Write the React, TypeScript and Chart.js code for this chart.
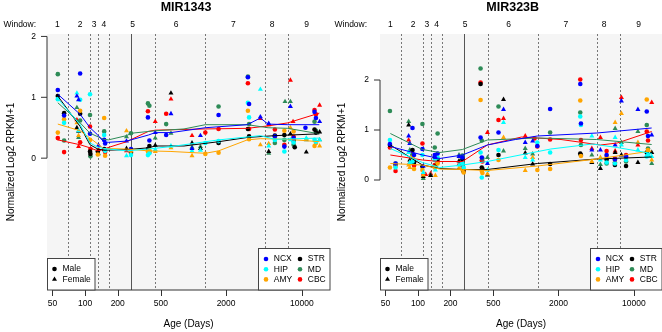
import React, { useEffect, useRef } from "react";
import { Chart, registerables } from "chart.js";

Chart.register(...registerables);

// [age in days post-conception, normalized log2 RPKM+1, sex: 0 = male, 1 = female]
type Sample = [number, number, number];
// [age in days, smoothed value]
type Curve = [number, number][];

// ---------- MIR1343 ----------
const MIR1343_NCX: Sample[] = [[56,1.12,0],[64,0.70,0],[84,1.02,1],[87,0.96,1],[90,1.39,0],[111,0.40,0],[133,0.21,1],[150,0.30,0],[153,0.24,0],[241,0.28,1],[265,0.15,0],[380,0.67,0],[392,0.29,0],[444,0.42,1],[560,0.38,0],[620,0.73,1],[970,0.16,1],[1160,0.37,1],[1705,0.71,0],[3180,1.33,0],[3260,0.89,0],[4145,0.68,1],[4950,0.57,1],[5640,0.36,0],[6900,0.19,0],[7850,0.85,1],[8400,0.33,0],[10800,0.50,0],[13100,0.76,0],[13500,0.66,0],[14600,0.60,1]];
const MIR1343_HIP: Sample[] = [[56,0.97,0],[64,0.58,0],[84,1.07,1],[87,0.45,1],[90,0.96,0],[111,1.05,0],[150,0.38,0],[153,0.12,0],[241,0.04,1],[265,0.05,0],[380,0.05,0],[392,0.08,0],[444,0.14,1],[620,0.20,1],[970,0.12,1],[1160,0.13,1],[1287,0.25,0],[1705,0.28,0],[3180,0.91,0],[3260,0.67,0],[4145,1.13,1],[4950,0.20,1],[5640,0.30,0],[6900,0.11,0],[7850,0.30,1],[8400,0.26,0],[11000,0.33,1],[13100,0.30,0],[13500,0.27,0],[14600,0.30,1]];
const MIR1343_AMY: Sample[] = [[56,0.42,0],[64,0.64,0],[84,0.58,1],[87,0.37,1],[90,0.78,0],[111,0.30,0],[131,0.06,0],[150,0.66,0],[153,0.04,0],[241,0.45,1],[265,0.12,0],[380,0.11,0],[392,0.13,0],[444,0.11,1],[620,0.17,1],[970,0.04,1],[1287,0.07,0],[1705,0.09,0],[3180,0.78,0],[3260,0.31,0],[4145,0.22,1],[4950,0.24,1],[5640,0.33,0],[6900,0.45,0],[7850,0.50,1],[8400,0.44,0],[11000,0.32,1],[13100,0.20,0],[13500,0.25,0],[14600,0.20,1]];
const MIR1343_STR: Sample[] = [[56,1.02,0],[64,0.74,0],[84,0.50,1],[87,0.44,1],[90,0.73,0],[111,0.11,0],[112,0.07,0],[131,0.11,0],[150,0.15,0],[241,0.16,1],[265,0.10,0],[380,0.15,0],[392,0.20,0],[444,0.21,1],[620,1.07,1],[970,0.25,1],[1160,0.16,1],[1705,0.25,0],[3180,0.48,0],[3260,0.36,0],[4950,0.11,1],[5640,0.37,0],[6900,0.38,0],[7850,0.40,1],[8400,0.29,0],[8600,0.18,0],[11000,0.10,1],[13100,0.47,0],[13500,0.42,0],[14600,0.43,1]];
const MIR1343_MD: Sample[] = [[56,1.38,0],[64,0.29,0],[84,0.83,1],[87,0.34,1],[90,0.62,0],[111,0.71,0],[112,0.03,0],[133,0.07,1],[150,0.44,0],[241,0.35,1],[265,0.41,0],[380,0.90,0],[392,0.86,0],[444,0.33,1],[560,0.56,0],[620,0.41,1],[970,0.18,1],[1160,0.19,1],[1705,0.85,0],[3180,1.34,0],[3260,0.56,0],[4950,0.08,1],[5640,0.25,0],[6900,0.30,0],[7000,0.93,1],[7850,0.93,1],[8400,0.22,0],[11000,0.30,1],[13100,0.60,0],[13500,0.45,0],[14600,0.30,1]];
const MIR1343_CBC: Sample[] = [[56,0.33,0],[64,0.10,0],[84,0.63,1],[87,0.19,1],[90,0.26,0],[111,0.52,0],[112,0.15,0],[133,0.14,1],[150,0.14,0],[153,0.10,0],[241,0.12,1],[265,0.09,0],[380,0.77,0],[392,0.10,0],[444,0.60,1],[560,0.73,0],[620,0.97,1],[970,0.37,1],[1287,0.42,0],[1705,0.48,0],[3180,1.23,0],[3260,0.48,0],[4145,0.65,1],[4950,0.55,1],[5640,0.47,0],[6900,0.22,0],[7850,1.28,1],[8300,0.60,1],[8400,0.35,0],[13100,0.79,0],[13500,0.72,0],[14600,0.87,1]];

const MIR1343_NCX_FIT: Curve = [[56,1.05],[90,0.72],[111,0.5],[131,0.38],[148,0.27],[164,0.26],[241,0.28],[384,0.38],[444,0.42],[620,0.42],[1287,0.5],[3140,0.55],[4145,0.66],[4880,0.56],[7425,0.55],[14500,0.55]];
const MIR1343_HIP_FIT: Curve = [[56,0.98],[90,0.55],[111,0.25],[131,0.18],[148,0.16],[241,0.12],[384,0.15],[620,0.19],[818,0.22],[1705,0.3],[4145,0.37],[5640,0.31],[14500,0.33]];
const MIR1343_AMY_FIT: Curve = [[56,0.56],[90,0.45],[111,0.33],[148,0.16],[241,0.15],[384,0.12],[620,0.11],[1287,0.08],[1705,0.12],[3140,0.3],[4145,0.32],[7425,0.31],[14500,0.27]];
const MIR1343_STR_FIT: Curve = [[56,1.02],[90,0.52],[111,0.22],[131,0.15],[148,0.13],[241,0.14],[384,0.17],[444,0.2],[818,0.2],[1705,0.27],[3140,0.34],[5640,0.37],[14500,0.4]];
const MIR1343_MD_FIT: Curve = [[56,0.91],[90,0.58],[111,0.41],[148,0.31],[164,0.3],[241,0.37],[268,0.41],[444,0.45],[818,0.48],[1287,0.55],[3140,0.55],[4880,0.5],[7425,0.49],[14500,0.4]];
const MIR1343_CBC_FIT: Curve = [[56,0.3],[90,0.22],[111,0.17],[131,0.12],[148,0.15],[241,0.27],[384,0.44],[444,0.46],[1287,0.48],[3140,0.49],[4880,0.53],[7425,0.58],[14500,0.74]];

// ---------- MIR323B ----------
const MIR323B_NCX: Sample[] = [[55,0.72,0],[62,0.33,0],[82,0.88,1],[84,0.73,1],[89,1.04,0],[92,0.50,0],[110,0.62,0],[112,0.28,1],[143,0.50,0],[145,0.45,1],[152,0.53,0],[240,0.47,1],[258,0.45,0],[380,0.85,0],[390,0.45,0],[440,0.33,1],[557,0.95,0],[620,1.41,1],[985,0.75,1],[1154,0.78,1],[1275,0.68,0],[1675,1.42,0],[3185,1.92,0],[3230,1.13,0],[4077,0.60,1],[4895,0.60,1],[5587,0.50,0],[6668,0.41,0],[6700,0.70,1],[7660,1.58,1],[8456,0.47,0],[10890,1.41,1],[13150,1.37,0],[13500,0.88,0],[14620,0.90,1]];
const MIR323B_HIP: Sample[] = [[55,0.80,0],[62,0.25,0],[82,0.55,1],[84,0.35,1],[89,0.37,0],[110,0.50,0],[112,0.15,1],[143,0.40,0],[145,0.20,1],[152,0.45,0],[240,0.30,1],[258,0.33,0],[265,0.25,0],[380,0.55,0],[390,0.05,0],[440,0.20,1],[557,0.60,0],[620,1.15,1],[985,0.45,1],[1154,0.40,1],[1275,0.75,0],[1675,0.55,0],[3185,1.27,0],[3230,1.10,0],[4077,0.88,1],[4895,0.40,1],[5587,0.35,0],[6668,0.33,0],[6700,0.85,1],[7660,0.70,1],[8456,0.40,0],[10890,0.60,1],[13150,0.47,0],[13500,0.50,0],[14620,0.47,1]];
const MIR323B_AMY: Sample[] = [[55,0.25,0],[62,0.28,0],[82,0.30,1],[84,0.25,1],[89,0.45,0],[92,0.22,0],[110,0.20,0],[112,0.10,1],[143,0.25,0],[145,0.09,1],[152,0.33,0],[240,0.24,1],[258,0.21,0],[265,0.15,0],[380,1.60,0],[390,0.18,0],[395,0.14,0],[440,0.12,1],[557,0.40,0],[620,0.85,1],[985,0.19,1],[1154,0.45,1],[1275,0.20,0],[1675,0.22,0],[3185,1.59,0],[3230,0.48,0],[4077,0.37,1],[4895,0.45,1],[5587,0.48,0],[6668,0.40,0],[6700,1.15,1],[7660,1.33,1],[8456,0.45,0],[10890,0.75,1],[13150,1.61,0],[13500,0.60,0],[14620,0.40,1]];
const MIR323B_STR: Sample[] = [[55,0.70,0],[62,0.30,0],[82,1.10,1],[84,0.40,1],[89,0.60,0],[92,0.35,0],[110,0.27,0],[112,0.07,1],[131,0.09,1],[143,0.45,0],[145,0.28,1],[152,0.42,0],[240,0.38,1],[258,0.41,0],[265,0.17,0],[380,1.92,0],[390,0.25,0],[395,0.22,0],[440,0.10,1],[557,0.50,0],[620,1.61,1],[985,0.54,1],[1154,0.32,1],[1675,0.32,0],[3185,0.53,0],[3230,0.50,0],[4077,0.35,1],[4895,0.23,1],[5587,0.41,0],[6668,0.30,0],[6700,0.55,1],[7660,0.50,1],[8456,0.28,0],[10890,0.35,1],[13150,0.55,0],[13500,0.50,0],[14620,0.55,1]];
const MIR323B_MD: Sample[] = [[55,1.38,0],[62,0.33,0],[82,1.17,1],[84,0.60,1],[89,0.50,0],[110,1.12,0],[112,0.03,1],[131,0.10,1],[143,0.65,0],[145,0.40,1],[152,0.93,0],[240,0.50,1],[258,0.49,0],[380,2.23,0],[390,0.79,0],[395,0.43,0],[440,0.45,1],[557,1.47,0],[620,0.58,1],[985,0.63,1],[1154,0.52,1],[1675,0.95,0],[3185,1.35,0],[3230,0.70,0],[4077,0.50,1],[4895,0.31,1],[5587,0.33,0],[6668,0.35,0],[6700,1.03,1],[7660,0.75,1],[8456,0.37,0],[10890,0.97,1],[13150,1.10,0],[13500,0.63,0],[14620,0.33,1]];
const MIR323B_CBC: Sample[] = [[55,0.65,0],[62,0.18,0],[82,0.80,1],[84,0.35,1],[89,0.52,0],[92,0.29,0],[110,0.73,0],[112,0.12,1],[118,0.11,1],[131,0.13,1],[143,0.30,0],[145,0.30,1],[152,0.37,0],[240,0.32,1],[258,0.28,0],[265,0.20,0],[380,1.95,0],[390,0.39,0],[395,0.37,0],[440,0.95,1],[557,1.20,0],[620,1.23,1],[985,0.88,1],[1200,0.83,0],[1275,0.67,0],[1675,0.81,0],[3185,2.01,0],[3230,0.80,0],[4077,0.63,1],[4895,0.85,1],[5587,0.58,0],[6668,0.43,0],[6700,0.58,1],[7660,1.65,1],[8456,0.50,0],[10890,0.70,1],[13150,0.97,0],[13500,0.79,0],[14620,1.55,1]];

const MIR323B_NCX_FIT: Curve = [[55.5,0.67],[110,0.5],[159,0.43],[258,0.5],[439,0.7],[798,0.81],[1275,0.88],[4530,0.94],[14600,1.04]];
const MIR323B_HIP_FIT: Curve = [[55.5,0.63],[110,0.35],[159,0.25],[258,0.3],[439,0.37],[985,0.52],[1700,0.62],[4100,0.72],[7000,0.65],[14600,0.53]];
const MIR323B_AMY_FIT: Curve = [[55.5,0.33],[110,0.3],[159,0.22],[258,0.21],[439,0.19],[1275,0.28],[4530,0.42],[14600,0.58]];
const MIR323B_STR_FIT: Curve = [[55.5,0.7],[110,0.3],[159,0.23],[258,0.21],[439,0.21],[1275,0.33],[4530,0.42],[14600,0.46]];
const MIR323B_MD_FIT: Curve = [[55.5,0.93],[110,0.61],[159,0.55],[258,0.61],[439,0.8],[1275,0.84],[4530,0.81],[14600,0.71]];
const MIR323B_CBC_FIT: Curve = [[55.5,0.5],[110,0.4],[159,0.37],[258,0.37],[439,0.7],[910,0.86],[2112,0.81],[4900,0.7],[7000,0.74],[14600,0.97]];

// ---------- shared labels ----------
const REGION_NAMES = ["NCX", "HIP", "AMY", "STR", "MD", "CBC"];
const SEX_NAMES = ["Male", "Female"];
const AGE_TICKS = [50, 100, 200, 500, 2000, 10000];
const EXPR_TICKS = [0, 1, 2];
const WINDOW_NAMES = ["1", "2", "3", "4", "5", "6", "7", "8", "9"];
const WINDOW_CENTERS = [55.5, 90, 121, 149, 274, 692, 2338, 5306, 11066];
const WINDOW_BREAKS = [70, 111, 131, 166, 444, 1280, 4560, 7420];
const BIRTH_AGE = 266;

// ---------- styling ----------
const REGION_COLORS = ["#0000FF", "#00FFFF", "#FFA500", "#000000", "#2E8B57", "#FF0000"];
const FONT = '"Liberation Sans", Arial, Helvetica, sans-serif';
const PLOT_BG = "#f5f5f5";
const CIRCLE_R = 2.3;
const TRI_R = 2.9;
const SMALL = 8.5;
const LABEL = 10;

interface Panel {
  title: string;
  samples: Sample[][];
  curves: Curve[];
  yMin: number;
  yMax: number;
  titleX: number;
  canvasLeft: number;
  canvasWidth: number;
  axisWidth: number;
  padRight: number;
}

const PANELS: Panel[] = [
  {
    title: "MIR1343",
    samples: [MIR1343_NCX, MIR1343_HIP, MIR1343_AMY, MIR1343_STR, MIR1343_MD, MIR1343_CBC],
    curves: [MIR1343_NCX_FIT, MIR1343_HIP_FIT, MIR1343_AMY_FIT, MIR1343_STR_FIT, MIR1343_MD_FIT, MIR1343_CBC_FIT],
    yMin: -2.166,
    yMax: 2.04,
    titleX: 186,
    canvasLeft: 0,
    canvasWidth: 334,
    axisWidth: 47,
    padRight: 1,
  },
  {
    title: "MIR323B",
    samples: [MIR323B_NCX, MIR323B_HIP, MIR323B_AMY, MIR323B_STR, MIR323B_MD, MIR323B_CBC],
    curves: [MIR323B_NCX_FIT, MIR323B_HIP_FIT, MIR323B_AMY_FIT, MIR323B_STR_FIT, MIR323B_MD_FIT, MIR323B_CBC_FIT],
    yMin: -2.2,
    yMax: 2.92,
    titleX: 181.7,
    canvasLeft: 331,
    canvasWidth: 335,
    axisWidth: 49,
    padRight: 0,
  },
];

function drawText(
  ctx: CanvasRenderingContext2D,
  s: string,
  x: number,
  y: number,
  size: number,
  align: CanvasTextAlign = "center",
  bold = false
) {
  ctx.font = `${bold ? "bold " : ""}${size}px ${FONT}`;
  ctx.textAlign = align;
  ctx.textBaseline = "middle";
  ctx.fillStyle = "#000";
  ctx.fillText(s, x, y);
}

function drawMarker(ctx: CanvasRenderingContext2D, sex: number, x: number, y: number, color: string) {
  ctx.fillStyle = color;
  ctx.beginPath();
  if (sex === 0) {
    ctx.arc(x, y, CIRCLE_R, 0, Math.PI * 2);
  } else {
    let rad = 0;
    ctx.moveTo(x + Math.sin(rad) * TRI_R, y - Math.cos(rad) * TRI_R);
    rad += (Math.PI * 2) / 3;
    ctx.lineTo(x + Math.sin(rad) * TRI_R, y - Math.cos(rad) * TRI_R);
    rad += (Math.PI * 2) / 3;
    ctx.lineTo(x + Math.sin(rad) * TRI_R, y - Math.cos(rad) * TRI_R);
    ctx.closePath();
  }
  ctx.fill();
}

function makeDecor(panel: Panel) {
  return {
    id: "panelDecor",
    beforeDraw(chart: any) {
      const { ctx, chartArea: a } = chart;
      ctx.save();
      ctx.fillStyle = PLOT_BG;
      ctx.fillRect(a.left, a.top, a.right - a.left, a.bottom - a.top);
      ctx.restore();
    },
    beforeDatasetsDraw(chart: any) {
      const { ctx, chartArea: a } = chart;
      const xs = chart.scales.x;
      ctx.save();
      ctx.lineWidth = 1;
      ctx.strokeStyle = "#777";
      ctx.setLineDash([2, 2]);
      WINDOW_BREAKS.forEach((d) => {
        const px = Math.round(xs.getPixelForValue(d)) + 0.5;
        ctx.beginPath();
        ctx.moveTo(px, a.top);
        ctx.lineTo(px, a.bottom);
        ctx.stroke();
      });
      ctx.setLineDash([]);
      ctx.strokeStyle = "#555";
      const bx = Math.round(xs.getPixelForValue(BIRTH_AGE)) + 0.5;
      ctx.beginPath();
      ctx.moveTo(bx, a.top);
      ctx.lineTo(bx, a.bottom);
      ctx.stroke();
      ctx.restore();
    },
    afterDraw(chart: any) {
      const { ctx, chartArea: a } = chart;
      const xs = chart.scales.x;
      const ys = chart.scales.y;
      ctx.save();

      // axes in the classic style: lines only across the tick range
      ctx.strokeStyle = "#333";
      ctx.lineWidth = 1;
      const ax = a.left;
      ctx.beginPath();
      ctx.moveTo(ax, ys.getPixelForValue(EXPR_TICKS[0]));
      ctx.lineTo(ax, ys.getPixelForValue(EXPR_TICKS[EXPR_TICKS.length - 1]));
      EXPR_TICKS.forEach((v) => {
        const py = ys.getPixelForValue(v);
        ctx.moveTo(ax, py);
        ctx.lineTo(ax - 6, py);
      });
      ctx.stroke();
      const ay = a.bottom;
      ctx.beginPath();
      ctx.moveTo(xs.getPixelForValue(AGE_TICKS[0]), ay);
      ctx.lineTo(xs.getPixelForValue(AGE_TICKS[AGE_TICKS.length - 1]), ay);
      AGE_TICKS.forEach((v) => {
        const px = Math.round(xs.getPixelForValue(v)) + 0.5;
        ctx.moveTo(px, ay);
        ctx.lineTo(px, ay + 6);
      });
      ctx.stroke();

      // sex legend (bottom-left)
      const sx = a.left;
      const sy = a.bottom - 32;
      ctx.fillStyle = "#fff";
      ctx.fillRect(sx, sy, 48, 32);
      ctx.strokeStyle = "#444";
      ctx.strokeRect(sx + 0.5, sy + 0.5, 47.5, 31.5);
      SEX_NAMES.forEach((name, i) => {
        const ry = a.bottom - 21 + i * 10.3;
        drawMarker(ctx, i, sx + 7.5, ry, "#000");
        drawText(ctx, name, sx + 15.5, ry, SMALL, "left");
      });

      // region legend (bottom-right)
      const lx = a.right - 72;
      const ly = a.bottom - 42;
      ctx.fillStyle = "#fff";
      ctx.fillRect(lx, ly, 72, 42);
      ctx.strokeStyle = "#444";
      ctx.strokeRect(lx + 0.5, ly + 0.5, 71.5, 41.5);
      REGION_NAMES.forEach((name, i) => {
        const col = Math.floor(i / 3);
        const row = i % 3;
        const ry = a.bottom - 31 + row * 10.2;
        const mx = lx + 8 + col * 34;
        drawMarker(ctx, 0, mx, ry, REGION_COLORS[i]);
        drawText(ctx, name, mx + 7.8, ry, SMALL, "left");
      });

      // titles and window labels
      drawText(ctx, panel.title, panel.titleX, 8, 12.5, "center", true);
      drawText(ctx, "Window:", 3.5, 25, SMALL, "left");
      WINDOW_NAMES.forEach((w, i) => {
        drawText(ctx, w, xs.getPixelForValue(WINDOW_CENTERS[i]), 25, SMALL, "center");
      });
      drawText(ctx, "Age (Days)", (a.left + a.right) / 2, 324, LABEL, "center");
      ctx.translate(11, (a.top + a.bottom) / 2);
      ctx.rotate(-Math.PI / 2);
      drawText(ctx, "Normalized Log2 RPKM+1", 0, 0, LABEL, "center");
      ctx.restore();
    },
  };
}

function PanelChart({ panel }: { panel: Panel }) {
  const ref = useRef<HTMLCanvasElement>(null);

  useEffect(() => {
    const canvas = ref.current;
    if (!canvas) return;

    const datasets: any[] = [];
    panel.curves.forEach((curve, i) => {
      datasets.push({
        label: `${REGION_NAMES[i]} trend`,
        data: curve.map(([x, y]) => ({ x, y })),
        showLine: true,
        borderColor: REGION_COLORS[i],
        borderWidth: 1,
        pointRadius: 0,
        tension: 0,
        fill: false,
        order: 0,
      });
    });
    panel.samples.forEach((pts, i) => {
      [0, 1].forEach((sex) => {
        datasets.push({
          label: `${REGION_NAMES[i]} ${SEX_NAMES[sex]}`,
          data: pts.filter((p) => p[2] === sex).map((p) => ({ x: p[0], y: p[1] })),
          showLine: false,
          pointStyle: sex === 0 ? "circle" : "triangle",
          pointRadius: sex === 0 ? CIRCLE_R : TRI_R,
          backgroundColor: REGION_COLORS[i],
          borderColor: REGION_COLORS[i],
          borderWidth: 0,
          order: 1,
        });
      });
    });

    const tickFont = { family: FONT, size: SMALL };
    const chart = new Chart(canvas, {
      type: "scatter",
      data: { datasets },
      options: {
        responsive: false,
        animation: false,
        devicePixelRatio: 1,
        events: [],
        layout: { padding: { top: 34, right: panel.padRight, left: 0, bottom: 0 } },
        plugins: {
          legend: { display: false },
          tooltip: { enabled: false },
          title: { display: false },
        },
        scales: {
          x: {
            type: "logarithmic",
            min: 44.5,
            max: 18200,
            bounds: "data",
            afterBuildTicks: (s: any) => {
              s.ticks = AGE_TICKS.map((v) => ({ value: v }));
            },
            afterFit: (s: any) => {
              s.height = 42;
            },
            grid: { display: false, drawTicks: false },
            border: { display: false },
            ticks: {
              autoSkip: false,
              maxRotation: 0,
              padding: 9,
              color: "#000",
              font: tickFont,
              callback: (v: any) => String(v),
            },
          },
          y: {
            type: "linear",
            min: panel.yMin,
            max: panel.yMax,
            afterBuildTicks: (s: any) => {
              s.ticks = EXPR_TICKS.map((v) => ({ value: v }));
            },
            afterFit: (s: any) => {
              s.width = panel.axisWidth;
            },
            grid: { display: false, drawTicks: false },
            border: { display: false },
            ticks: {
              padding: 11,
              color: "#000",
              font: tickFont,
              callback: (v: any) => String(v),
            },
          },
        },
      } as any,
      plugins: [makeDecor(panel)],
    });

    return () => chart.destroy();
  }, [panel]);

  return (
    <canvas
      ref={ref}
      width={panel.canvasWidth}
      height={332}
      style={{ position: "absolute", left: panel.canvasLeft, top: 0, width: panel.canvasWidth, height: 332 }}
    />
  );
}

export default function App() {
  return (
    <div
      style={{
        position: "fixed",
        left: 0,
        top: 0,
        width: 662,
        height: 332,
        overflow: "hidden",
        background: "#fff",
      }}
    >
      {PANELS.map((p) => (
        <PanelChart key={p.title} panel={p} />
      ))}
    </div>
  );
}
